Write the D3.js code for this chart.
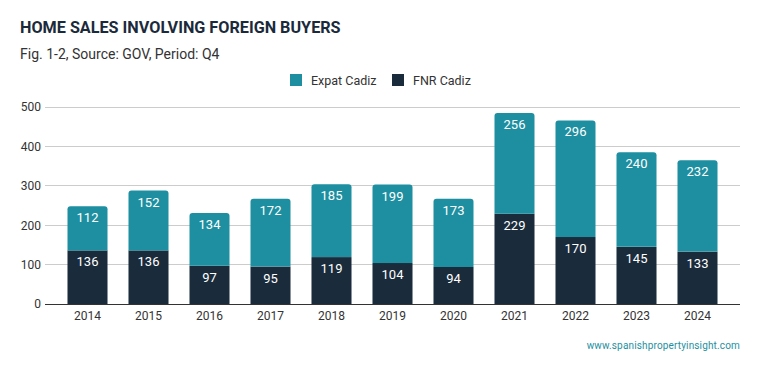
<!DOCTYPE html>
<html><head><meta charset="utf-8">
<script src="https://cdn.jsdelivr.net/npm/d3@7"></script>
<style>
body{margin:0;background:#fff;}
svg{font-family:Roboto, "Noto Sans", sans-serif;display:block;}
</style></head>
<body><svg id="c" width="759" height="371"></svg>
<script>
const years = ["2014","2015","2016","2017","2018","2019","2020","2021","2022","2023","2024"];
const fnrCadiz = [136,136,97,95,119,104,94,229,170,145,133];
const expatCadiz = [112,152,134,172,185,199,173,256,296,240,232];
const yTicks = [0,100,200,300,400,500];
const seriesNames = ["Expat Cadiz","FNR Cadiz"];
const colors = {"Expat Cadiz":"#1e8fa0","FNR Cadiz":"#1a2b3c"};

const svg = d3.select("#c");
svg.append("rect").attr("width",759).attr("height",371).attr("fill","#fff");

svg.append("text").attr("x",20).attr("y",33).text("HOME SALES INVOLVING FOREIGN BUYERS")
  .attr("font-size",16.2).attr("font-weight",700).attr("fill","#1b2a3a");
svg.append("text").attr("x",20).attr("y",59).text("Fig. 1-2, Source: GOV, Period: Q4")
  .attr("font-size",14).attr("fill","#333");

const x = d3.scaleBand().domain(years).range([57,728]).paddingInner(0.344).paddingOuter(0.172);
const y = d3.scaleLinear().domain([0,500]).range([304,107]);

const g = svg.append("g");
g.selectAll(".grid").data(yTicks).join("line")
  .attr("x1",45).attr("x2",740).attr("y1",d=>y(d)).attr("y2",d=>y(d))
  .attr("stroke",d=>d===0?"#333":"#ccc").attr("stroke-width",1)
  .attr("shape-rendering","crispEdges");

const yAxis = d3.axisLeft(y).tickValues(yTicks).tickSize(0).tickPadding(0);
const ya = svg.append("g").attr("transform","translate(41,0)").call(yAxis);
ya.select(".domain").remove();
ya.selectAll("text").attr("font-size",12).attr("fill","#333").attr("font-family","Roboto, sans-serif");

const xAxis = d3.axisBottom(x).tickSize(0).tickPadding(0);
const xa = svg.append("g").attr("transform","translate(0,311)").call(xAxis);
xa.select(".domain").remove();
xa.selectAll("text").attr("font-size",12).attr("fill","#333").attr("font-family","Roboto, sans-serif").attr("dy","0.71em");

const data = years.map((yr,i)=>({year:yr,"FNR Cadiz":fnrCadiz[i],"Expat Cadiz":expatCadiz[i]}));
const stack = d3.stack().keys(["FNR Cadiz","Expat Cadiz"])(data);

const r = 3;
function topRounded(x0,y0,w,h,rad){
  return `M${x0},${y0+h}V${y0+rad}Q${x0},${y0} ${x0+rad},${y0}H${x0+w-rad}Q${x0+w},${y0} ${x0+w},${y0+rad}V${y0+h}Z`;
}
stack.forEach(layer=>{
  const key = layer.key;
  layer.forEach((d,i)=>{
    const x0 = x(years[i]), w = x.bandwidth();
    const yt = y(d[1]), yb = y(d[0]);
    if(key==="Expat Cadiz"){
      svg.append("path").attr("d",topRounded(x0,yt,w,yb-yt,r)).attr("fill",colors[key]);
    } else {
      svg.append("rect").attr("x",x0).attr("y",yt).attr("width",w).attr("height",yb-yt).attr("fill",colors[key]);
    }
    svg.append("text").attr("x",x0+w/2).attr("y",yt+16).attr("text-anchor","middle")
      .attr("font-size",13).attr("fill","#fff").text(d[1]-d[0]);
  });
});

// legend
const leg = svg.append("g");
const legX = [290,392];
seriesNames.forEach((n,i)=>{
  leg.append("rect").attr("x",legX[i]).attr("y",74).attr("width",12).attr("height",12).attr("fill",colors[n]);
  leg.append("text").attr("x",legX[i]+21).attr("y",85).attr("font-size",12.5).attr("fill","#333").text(n);
});

svg.append("text").attr("x",740).attr("y",349).attr("text-anchor","end")
  .attr("font-size",10).attr("letter-spacing",0.15).attr("fill","#1e8fa0").text("www.spanishpropertyinsight.com");
</script></body></html>
